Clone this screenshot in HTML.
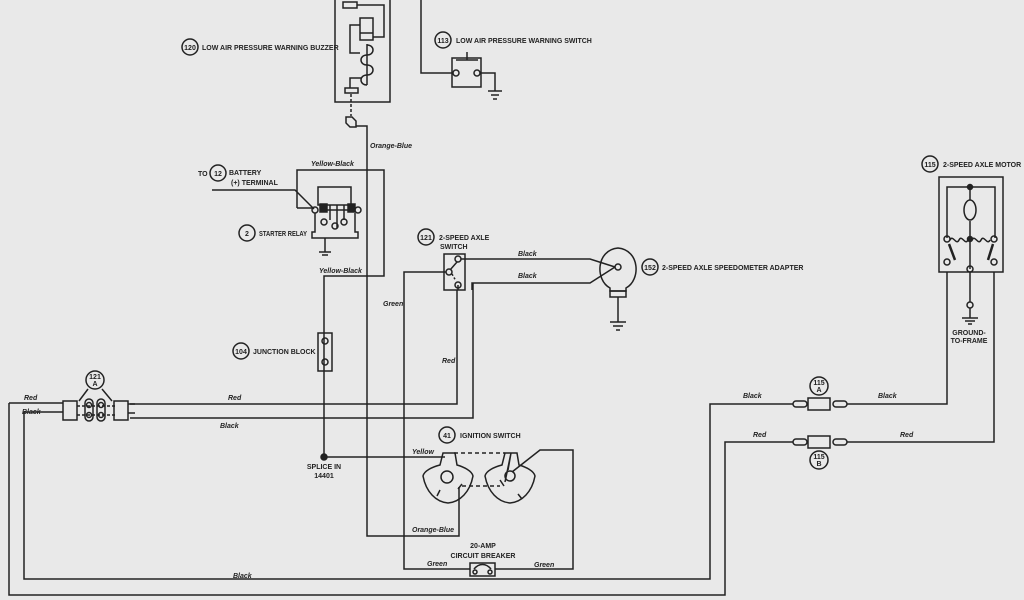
<!DOCTYPE html>
<html><head><meta charset="utf-8"><style>
html,body{margin:0;padding:0;background:#e9e9e9;}
svg{display:block;}
text{font-family:"Liberation Sans",sans-serif;font-weight:bold;fill:#222;font-size:7px;}
</style></head><body>
<svg width="1024" height="600" viewBox="0 0 1024 600" xmlns="http://www.w3.org/2000/svg">
<rect width="1024" height="600" fill="#e9e9e9"/>
<g stroke="#222" stroke-width="1.5" fill="none">
<!-- buzzer -->
<path d="M335 0V102H390V0"/>
<rect x="343" y="2" width="14" height="6"/>
<path d="M357 5H384V37H373"/>
<rect x="360" y="18" width="13" height="22"/><path d="M360 33H373"/>
<path d="M360 25H350V53H360"/>
<path d="M367 45c8 0 8 10 0 10c-8 0-8 10 0 10c8 0 8 10 0 10c-8 0-8 10 0 10"/>
<path d="M367 44V85"/>
<path d="M362 78H350V88"/>
<rect x="345" y="88" width="13" height="5"/>
<path d="M351 94V116" stroke-dasharray="3,2"/>
<path d="M346 117h6l4 4v6h-6l-4-4z"/>
<path d="M356 126H367V536H459V487"/>
<!-- 113 switch -->
<path d="M421 0V73H452"/>
<rect x="452" y="58" width="29" height="29"/>
<path d="M456 60H478M467 52V60"/>
<circle cx="456" cy="73" r="3"/><circle cx="477" cy="73" r="3"/>
<path d="M480 73H495V91M488 91H502M491 95H499M493 99H497"/>
<!-- relay -->
<path d="M212 190H295L314 209"/>
<path d="M297 208V170H384V276H324V457"/>
<path d="M297 208H312"/>
<rect x="318" y="187" width="33" height="18"/>
<rect x="320" y="204" width="7" height="8" fill="#222"/><rect x="348" y="204" width="7" height="8" fill="#222"/>
<circle cx="315" cy="210" r="3"/><circle cx="358" cy="210" r="3"/>
<path d="M327 210H348M315 213V232H312V238H358V232H355V213"/>
<path d="M330 205V220M337 205V228M344 205V220"/>
<circle cx="324" cy="222" r="3"/><circle cx="335" cy="226" r="3"/><circle cx="344" cy="222" r="3"/>
<path d="M325 238V252M319 252H331M322 255H328"/>
<!-- junction -->
<rect x="318" y="333" width="14" height="38"/>
<circle cx="325" cy="341" r="3"/><circle cx="325" cy="362" r="3"/>
<!-- 121 switch -->
<rect x="444" y="254" width="21" height="36"/>
<circle cx="458" cy="259" r="3"/><circle cx="449" cy="272" r="3"/><circle cx="458" cy="285" r="3"/>
<path d="M450 270L457 262"/>
<path d="M452 274L456 281" stroke-dasharray="2,2"/>
<path d="M461 259H590L615 267"/>
<path d="M458 285V290M472 290V283H590L615 267"/>
<path d="M446 272H404V569H470"/>
<path d="M457 290V404H130"/>
<path d="M473 283V418H130"/>
<!-- adapter -->
<path d="M610 288c-15-8-14-38 8-40c22 2 23 32 8 40v3h-16z"/>
<circle cx="618" cy="267" r="3"/>
<rect x="610" y="291" width="16" height="6"/>
<path d="M618 297V322M610 322H626M613 326H623M616 330H620"/>
<!-- 121A connector -->
<path d="M9 403V595H725V442H793"/>
<path d="M24 412V579H710V404H793"/>
<path d="M9 403H63M24 412H63"/>
<rect x="63" y="401" width="14" height="19"/><rect x="114" y="401" width="14" height="19"/>
<path d="M77 406H115M77 415H115" stroke-dasharray="3,2"/>
<rect x="85" y="399" width="8" height="22" rx="4"/><rect x="97" y="399" width="8" height="22" rx="4"/>
<circle cx="89" cy="405" r="2.5"/><circle cx="89" cy="415" r="2.5"/><circle cx="101" cy="405" r="2.5"/><circle cx="101" cy="415" r="2.5"/>
<path d="M88 389L79 401M102 389L112 401"/>
<path d="M128 404H135M128 413H135"/>
<!-- 115 connectors -->
<rect x="793" y="401" width="14" height="6" rx="3"/><rect x="808" y="398" width="22" height="12"/><rect x="833" y="401" width="14" height="6" rx="3"/>
<path d="M847 404H947V272"/>
<rect x="793" y="439" width="14" height="6" rx="3"/><rect x="808" y="436" width="22" height="12"/><rect x="833" y="439" width="14" height="6" rx="3"/>
<path d="M847 442H994V272"/>
<!-- motor -->
<rect x="939" y="177" width="64" height="95"/>
<path d="M947 238V187H995V238"/>
<circle cx="970" cy="187" r="2.5" fill="#222"/>
<path d="M970 187V200M970 221V269"/>
<ellipse cx="970" cy="210" rx="6" ry="10"/>
<circle cx="970" cy="239" r="2.5" fill="#222"/>
<circle cx="947" cy="239" r="3"/><circle cx="994" cy="239" r="3"/>
<path d="M950 240c3-6 6 6 9 0c3-6 6 6 9 0M972 240c3-6 6 6 9 0c3-6 6 6 9 0"/>
<path d="M949 244L955 260M993 244L988 260" stroke-width="2.5"/>
<circle cx="947" cy="262" r="3"/><circle cx="970" cy="269" r="3"/><circle cx="994" cy="262" r="3"/>
<path d="M970 272V302"/><circle cx="970" cy="305" r="3"/>
<path d="M970 308V318M962 318H978M965 321H975M968 324H972"/>
<!-- ignition -->
<circle cx="324" cy="457" r="3" fill="#222"/>
<path d="M324 457H445"/>
<path d="M454 453H505M462 486H500" stroke-dasharray="4,3"/>
<path d="M443 453H455L457 465C464 467 472 471 473 476C470 492 460 502 448 503C436 502 426 492 423 476C424 471 432 467 440 465Z"/>
<circle cx="447" cy="477" r="6"/>
<path d="M437 496L440 490M458 489L462 484"/>
<path d="M505 453H517L519 465C526 467 534 471 535 476C532 492 522 502 510 503C498 502 488 492 485 476C486 471 494 467 502 465Z"/>
<path d="M511 453L505 482M511 453L508 470"/>
<circle cx="510" cy="476" r="5"/>
<path d="M500 480L504 486M518 494L522 499"/>
<path d="M512 472L540 450H573V569H495"/>
<rect x="470" y="563" width="25" height="13"/>
<path d="M474 569c5-6 12-6 17 0"/>
<circle cx="475" cy="572" r="2"/><circle cx="490" cy="572" r="2"/>
<!-- label circles -->
<circle cx="190" cy="47" r="8"/><circle cx="443" cy="40" r="8"/>
<circle cx="218" cy="173" r="8"/><circle cx="247" cy="233" r="8"/>
<circle cx="426" cy="237" r="8"/><circle cx="241" cy="351" r="8"/>
<circle cx="95" cy="380" r="9"/><circle cx="447" cy="435" r="8"/>
<circle cx="650" cy="267" r="8"/><circle cx="930" cy="164" r="8"/>
<circle cx="819" cy="386" r="9"/><circle cx="819" cy="460" r="9"/>
</g>
<g text-anchor="middle">
<text x="190" y="50" font-size="6">120</text><text x="443" y="43" font-size="6">113</text>
<text x="218" y="176">12</text><text x="247" y="236">2</text>
<text x="426" y="240" font-size="6">121</text><text x="241" y="354" font-size="6">104</text>
<text x="95" y="379" font-size="6">121</text><text x="95" y="386" font-size="6">A</text>
<text x="447" y="438">41</text><text x="650" y="270" font-size="6">152</text>
<text x="930" y="167" font-size="6">115</text>
<text x="819" y="385" font-size="6">115</text><text x="819" y="392" font-size="6">A</text>
<text x="819" y="459" font-size="6">115</text><text x="819" y="466" font-size="6">B</text>
<text x="969" y="335">GROUND-</text><text x="969" y="343">TO-FRAME</text>
<text x="324" y="469">SPLICE IN</text><text x="324" y="478">14401</text>
<text x="483" y="548">20-AMP</text><text x="483" y="558">CIRCUIT BREAKER</text>
</g>
<text x="202" y="50">LOW AIR PRESSURE WARNING BUZZER</text>
<text x="456" y="43">LOW AIR PRESSURE WARNING SWITCH</text>
<text x="198" y="176">TO</text><text x="229" y="175">BATTERY</text>
<text x="231" y="185">(+) TERMINAL</text>
<text x="259" y="236" textLength="48" lengthAdjust="spacingAndGlyphs">STARTER RELAY</text>
<text x="439" y="240">2-SPEED AXLE</text><text x="440" y="249">SWITCH</text>
<text x="253" y="354">JUNCTION BLOCK</text>
<text x="460" y="438">IGNITION SWITCH</text>
<text x="662" y="270">2-SPEED AXLE SPEEDOMETER ADAPTER</text>
<text x="943" y="167">2-SPEED AXLE MOTOR</text>
<g font-style="italic">
<text x="370" y="148">Orange-Blue</text>
<text x="311" y="166">Yellow-Black</text>
<text x="319" y="273">Yellow-Black</text>
<text x="518" y="256">Black</text><text x="518" y="278">Black</text>
<text x="383" y="306">Green</text>
<text x="442" y="363">Red</text>
<text x="24" y="400">Red</text><text x="22" y="414">Black</text>
<text x="228" y="400">Red</text><text x="220" y="428">Black</text>
<text x="412" y="454">Yellow</text>
<text x="412" y="532">Orange-Blue</text>
<text x="427" y="566">Green</text><text x="534" y="567">Green</text>
<text x="233" y="578">Black</text>
<text x="743" y="398">Black</text><text x="878" y="398">Black</text>
<text x="753" y="437">Red</text><text x="900" y="437">Red</text>
</g>
</svg>
</body></html>
